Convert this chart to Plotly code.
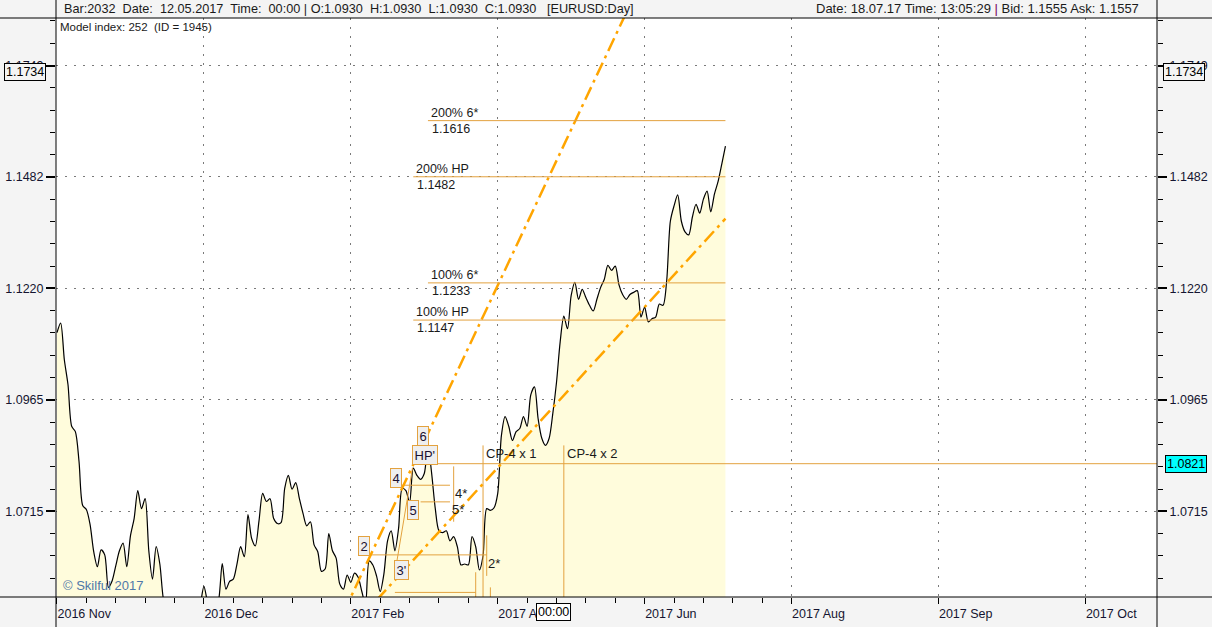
import math
import plotly.graph_objects as go

# ---------------- data ----------------
# x axis = bar index (daily bars); month labels shown at every 40th bar
tick_bars = [0, 40, 80, 120, 160, 200, 240, 280]
tick_labels = ["2016 Nov", "2016 Dec", "2017 Feb", "2017 Apr", "2017 Jun",
               "2017 Aug", "2017 Sep", "2017 Oct"]

price_ticks = [1.0715, 1.0965, 1.1220, 1.1482, 1.1749]
price_tick_text = ["1.0715", "1.0965", "1.1220", "1.1482", "1.1749"]

close = [
    1.1118, 1.1140, 1.1056, 1.0999, 1.0905, 1.0893, 1.0826, 1.0728, 1.0719, 1.0686,
    1.0626, 1.0593, 1.0630, 1.0619, 1.0548, 1.0562, 1.0595, 1.0628, 1.0645, 1.0593,
    1.0661, 1.0699, 1.0761, 1.0721, 1.0743, 1.0628, 1.0566, 1.0637, 1.0599, 1.0521,
    1.0495, 1.0470, 1.0455, 1.0480, 1.0500, 1.0470, 1.0440, 1.0460, 1.0485, 1.0510,
    1.0550, 1.0515, 1.0490, 1.0500, 1.0520, 1.0600, 1.0544, 1.0561, 1.0566, 1.0599,
    1.0637, 1.0615, 1.0708, 1.0655, 1.0639, 1.0694, 1.0755, 1.0737, 1.0743, 1.0699,
    1.0688, 1.0690, 1.0766, 1.0795, 1.0764, 1.0779, 1.0743, 1.0710, 1.0683, 1.0692,
    1.0641, 1.0626, 1.0583, 1.0588, 1.0666, 1.0628, 1.0612, 1.0555, 1.0544, 1.0575,
    1.0559, 1.0579, 1.0570, 1.0539, 1.0510, 1.0606, 1.0597, 1.0573, 1.0539, 1.0577,
    1.0650, 1.0672, 1.0628, 1.0677, 1.0766, 1.0761, 1.0734, 1.0811, 1.0795, 1.0786,
    1.0799, 1.0862, 1.0800, 1.0721, 1.0672, 1.0668, 1.0672, 1.0650, 1.0659, 1.0637,
    1.0597, 1.0599, 1.0597, 1.0659, 1.0637, 1.0586, 1.0617, 1.0721, 1.0717, 1.0723,
    1.0755, 1.0884, 1.0927, 1.0905, 1.0873, 1.0893, 1.0900, 1.0927, 1.0905, 1.0976,
    1.0994, 1.0922, 1.0878, 1.0862, 1.0878, 1.0934, 1.1004, 1.1097, 1.1156, 1.1127,
    1.1204, 1.1234, 1.1195, 1.1218, 1.1199, 1.1181, 1.1168, 1.1195, 1.1222, 1.1241,
    1.1274, 1.1262, 1.1272, 1.1229, 1.1206, 1.1195, 1.1206, 1.1211, 1.1215, 1.1154,
    1.1177, 1.1143, 1.1150, 1.1154, 1.1184, 1.1181, 1.1238, 1.1377, 1.1413, 1.1439,
    1.1377, 1.1352, 1.1345, 1.1387, 1.1417, 1.1396, 1.1429, 1.1448, 1.1399, 1.1441,
    1.1471, 1.1512, 1.1555,
]
bars = list(range(len(close)))

# projection levels
level_names = ["200% 6*", "200% HP", "100% 6*", "100% HP"]
level_values = [1.1616, 1.1482, 1.1233, 1.1147]
level_start = [101, 97, 101, 97]
hp_level = 1.0821
hp_start = 97

# dash-dot fan lines (two points each)
fan1_bars = [78, 157.5]
fan1_prices = [1.0493, 1.1926]
fan2_bars = [87, 182]
fan2_prices = [1.0520, 1.1383]

# thin construction segments: (bar0, bar1, price0, price1)
seg_bar0 = [94, 99, 85, 92, 108, 117, 114, 118, 116, 138, 92.5]
seg_bar1 = [107, 107, 117, 114, 108, 117, 114, 118, 116, 138, 96.8]
seg_p0 = [1.0773, 1.0736, 1.0619, 1.0537, 1.0815, 1.0662, 1.0581, 1.0548, 1.0862, 1.0862, 1.0603]
seg_p1 = [1.0773, 1.0736, 1.0619, 1.0537, 1.0692, 1.0573, 1.0500, 1.0500, 1.0500, 1.0500, 1.0812]

# wave point labels
pt_names = ["6", "HP'", "4", "5", "2", "3'"]
pt_bars = [99.6, 100.2, 92.4, 96.9, 83.7, 93.7]
pt_prices = [1.0884, 1.0841, 1.0790, 1.0717, 1.0638, 1.0586]
star_names = ["4*", "5*", "2*"]
star_bars = [110.0, 109.1, 119.0]
star_prices = [1.0754, 1.0719, 1.0601]
cp_names = ["CP-4 x 1", "CP-4 x 2"]
cp_bars = [116, 138]
cp_price = 1.0844

current_close = 1.1734

# ---------------- styling ----------------
W, H = 1212, 627
ML, MR, MT, MB = 56, 55, 18, 30
PW, PH = W - ML - MR, H - MT - MB
FONT = "Liberation Sans"
TXT = "#1a1a1a"
ORANGE = "#FFA500"
TAN = "#E3A23F"
PAPER = "#F4F4F4"

y_lo, y_hi = 1.0527, 1.1865
x_lo, x_hi = -0.27, 299.5


def px_x(px):
    return (px - ML) / PW


def px_y(py):
    return (H - MB - py) / PH


# minor ticks on the log price axis: 5 sub-intervals per major interval
lg = [math.log10(v) for v in price_ticks]
minor_y = []
for i in range(len(lg) - 1):
    for k in range(1, 5):
        minor_y.append(10 ** (lg[i] + k * (lg[i + 1] - lg[i]) / 5))
step = (lg[1] - lg[0]) / 5
for k in range(1, 6):
    minor_y.append(10 ** (lg[0] - k * step))
    minor_y.append(10 ** (lg[-1] + k * step))
minor_x = [b for b in range(8, 193, 8) if b % 40 != 0]

fig = go.Figure()

# baseline for the area fill
fig.add_trace(go.Scatter(x=[bars[0], bars[-1]], y=[1.0, 1.0], mode="lines",
                         line=dict(width=0), showlegend=False, hoverinfo="skip"))
fig.add_trace(go.Scatter(x=bars, y=close, mode="lines", fill="tonexty",
                         fillcolor="#FFFCDC",
                         line=dict(color="black", width=1.2, shape="spline", smoothing=0.8),
                         showlegend=False, hoverinfo="skip"))

# thin construction segments
sx, sy = [], []
for b0, b1, p0, p1 in zip(seg_bar0, seg_bar1, seg_p0, seg_p1):
    sx += [b0, b1, None]
    sy += [p0, p1, None]
fig.add_trace(go.Scatter(x=sx, y=sy, mode="lines", line=dict(color=TAN, width=1),
                         showlegend=False, hoverinfo="skip"))

# projection levels (drawn on right axis, same scale)
lx, ly = [], []
for v, s in zip(level_values, level_start):
    lx += [s, bars[-1], None]
    ly += [v, v, None]
lx += [hp_start, x_hi + 5]
ly += [hp_level, hp_level]
fig.add_trace(go.Scatter(x=lx, y=ly, mode="lines", line=dict(color=TAN, width=1),
                         yaxis="y2", showlegend=False, hoverinfo="skip"))

# fan lines
for fb, fp in [(fan1_bars, fan1_prices), (fan2_bars, fan2_prices)]:
    fig.add_trace(go.Scatter(x=fb, y=fp, mode="lines",
                             line=dict(color=ORANGE, width=2.5, dash="14px,5px,3px,5px"),
                             showlegend=False, hoverinfo="skip"))

ann = []
# level labels
for name, v, s in zip(level_names, level_values, level_start):
    ann.append(dict(x=s, y=math.log10(v), xref="x", yref="y", text=name, showarrow=False,
                    xanchor="left", yanchor="bottom", xshift=1, yshift=-1,
                    font=dict(family=FONT, size=12.5, color=TXT)))
    ann.append(dict(x=s, y=math.log10(v), xref="x", yref="y", text=f"{v:.4f}", showarrow=False,
                    xanchor="left", yanchor="top", xshift=2, yshift=1,
                    font=dict(family=FONT, size=12.5, color=TXT)))
for name, b, p in zip(pt_names, pt_bars, pt_prices):
    ann.append(dict(x=b, y=math.log10(p), xref="x", yref="y", text=name, showarrow=False,
                    xanchor="center", yanchor="middle",
                    bgcolor="#EFEFEF", bordercolor=TAN, borderwidth=1, borderpad=1.5,
                    font=dict(family=FONT, size=13, color="#1a1030")))
for name, b, p in zip(star_names, star_bars, star_prices):
    ann.append(dict(x=b, y=math.log10(p), xref="x", yref="y", text=name, showarrow=False,
                    xanchor="center", yanchor="middle",
                    font=dict(family=FONT, size=13, color=TXT)))
for name, b in zip(cp_names, cp_bars):
    ann.append(dict(x=b, y=math.log10(cp_price), xref="x", yref="y", text=name, showarrow=False,
                    xanchor="left", yanchor="middle", xshift=1,
                    font=dict(family=FONT, size=13, color=TXT)))

# header texts
ann.append(dict(x=px_x(62), y=px_y(9), xref="paper", yref="paper", xanchor="left",
                yanchor="middle", showarrow=False,
                text="Bar:2032\u00a0 Date:\u00a0 12.05.2017\u00a0 Time:\u00a0 00:00 | O:1.0930\u00a0 H:1.0930\u00a0 L:1.0930\u00a0 C:1.0930\u00a0\u00a0 [EURUSD:Day]",
                font=dict(family=FONT, size=12.7, color=TXT)))
ann.append(dict(x=px_x(1141), y=px_y(9), xref="paper", yref="paper", xanchor="right",
                yanchor="middle", showarrow=False,
                text="Date: 18.07.17 Time: 13:05:29 <span style='color:#7a0a5a'>|</span> Bid: 1.1555 Ask: 1.1557",
                font=dict(family=FONT, size=13, color=TXT)))
ann.append(dict(x=px_x(58), y=px_y(27), xref="paper", yref="paper", xanchor="left",
                yanchor="middle", showarrow=False, text="Model index: 252\u00a0 (ID = 1945)",
                font=dict(family=FONT, size=11.5, color=TXT)))
ann.append(dict(x=px_x(61), y=px_y(585), xref="paper", yref="paper", xanchor="left",
                yanchor="middle", showarrow=False, text="© Skilful 2017",
                font=dict(family=FONT, size=13, color="#4f78a8")))
# price boxes
for xp in [25, 1184]:
    ann.append(dict(x=px_x(xp), y=math.log10(current_close), xref="paper", yref="y",
                    xanchor="center", yanchor="middle",
                    text=f"{current_close:.4f}", showarrow=False, bgcolor=PAPER,
                    bordercolor="black", borderwidth=1, borderpad=1,
                    font=dict(family=FONT, size=12.5, color="black")))
ann.append(dict(x=px_x(1186), y=math.log10(hp_level), xref="paper", yref="y",
                xanchor="center", yanchor="middle",
                text=f"{hp_level:.4f}", showarrow=False, bgcolor="#00FFFF",
                bordercolor="black", borderwidth=1, borderpad=1,
                font=dict(family=FONT, size=12.5, color="black")))
ann.append(dict(x=px_x(553), y=px_y(612), xref="paper", yref="paper",
                xanchor="center", yanchor="middle",
                text="00:00", showarrow=False, bgcolor="white",
                bordercolor="black", borderwidth=1, borderpad=1,
                font=dict(family=FONT, size=12.5, color="black")))

# frame lines spanning the window
shapes = [
    dict(type="line", xref="paper", yref="paper", x0=px_x(0), x1=px_x(W), y0=1, y1=1,
         line=dict(color="black", width=1)),
    dict(type="line", xref="paper", yref="paper", x0=px_x(0), x1=px_x(W), y0=0, y1=0,
         line=dict(color="black", width=1)),
    dict(type="line", xref="paper", yref="paper", x0=0, x1=0, y0=px_y(H), y1=px_y(0),
         line=dict(color="black", width=1)),
    dict(type="line", xref="paper", yref="paper", x0=1, x1=1, y0=px_y(H), y1=px_y(0),
         line=dict(color="black", width=1)),
]

yax = dict(type="log", range=[math.log10(y_lo), math.log10(y_hi)],
           tickmode="array", tickvals=price_ticks, ticktext=price_tick_text,
           ticks="outside", ticklen=9, tickwidth=2, tickcolor="black",
           tickfont=dict(family=FONT, size=12.5, color="#141430"),
           showline=False, zeroline=False, automargin=False,
           minor=dict(tickmode="array", tickvals=minor_y, ticks="outside", ticklen=5,
                      tickwidth=1, tickcolor="black", showgrid=False))

fig.update_layout(
    width=W, height=H,
    margin=dict(l=ML, r=MR, t=MT, b=MB, pad=0, autoexpand=False),
    paper_bgcolor=PAPER, plot_bgcolor="white",
    hovermode=False, showlegend=False,
    xaxis=dict(range=[x_lo, x_hi], tickmode="array", tickvals=tick_bars, ticktext=tick_labels,
               ticks="outside", ticklen=6, tickwidth=1, tickcolor="black",
               ticklabelposition="outside right", ticklabelstandoff=5, automargin=False,
               tickfont=dict(family=FONT, size=12.5, color="#141430"),
               showgrid=True, gridcolor="#7a7a7a", griddash="2px,7px", gridwidth=1,
               showline=False, zeroline=False,
               minor=dict(tickmode="array", tickvals=minor_x, ticks="outside", ticklen=5,
                          tickwidth=1, tickcolor="black", showgrid=False)),
    yaxis=dict(**yax, showgrid=True, gridcolor="#7a7a7a", griddash="2px,7px", gridwidth=1),
    yaxis2=dict(**yax, overlaying="y", side="right", anchor="x", showgrid=False),
    annotations=ann,
    shapes=shapes,
)

fig.write_html("out.html", config={"displayModeBar": False},
               post_script="document.body.style.margin='0';document.body.style.overflow='hidden';")
